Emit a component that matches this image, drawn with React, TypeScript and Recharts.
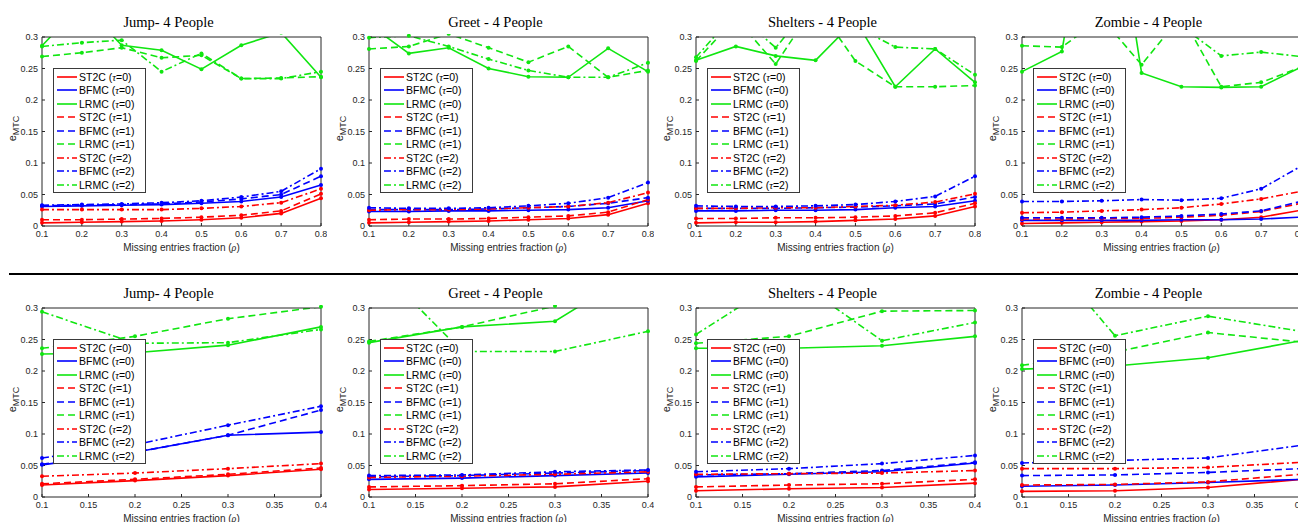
import React from "react";
import { LineChart, Line, XAxis, YAxis, Legend } from "recharts";

// x positions (missing entries fraction)
const xTop = [0.1, 0.2, 0.3, 0.4, 0.5, 0.6, 0.7, 0.8];
const xBottom = [0.1, 0.2, 0.3, 0.4];
const xTicksTop = [0.1, 0.2, 0.3, 0.4, 0.5, 0.6, 0.7, 0.8];
const xTicksBottom = [0.1, 0.15, 0.2, 0.25, 0.3, 0.35, 0.4];
const yTicks = [0, 0.05, 0.1, 0.15, 0.2, 0.25, 0.3];

const methods = ["ST2C", "BFMC", "LRMC"];
const taus = [0, 1, 2];

// each panel: ST2C/BFMC/LRMC for tau=0, then tau=1, then tau=2
const jumpTop = [
  [0.005, 0.006, 0.007, 0.008, 0.01, 0.013, 0.02, 0.044],
  [0.031, 0.032, 0.033, 0.034, 0.036, 0.039, 0.046, 0.065],
  [0.286, 0.353, 0.287, 0.279, 0.249, 0.287, 0.307, 0.236],
  [0.01, 0.01, 0.011, 0.012, 0.014, 0.017, 0.024, 0.051],
  [0.032, 0.033, 0.034, 0.035, 0.038, 0.043, 0.05, 0.079],
  [0.269, 0.275, 0.283, 0.267, 0.271, 0.234, 0.235, 0.237],
  [0.026, 0.026, 0.026, 0.026, 0.028, 0.031, 0.037, 0.059],
  [0.033, 0.034, 0.035, 0.037, 0.04, 0.046, 0.055, 0.091],
  [0.285, 0.291, 0.295, 0.245, 0.274, 0.234, 0.234, 0.245],
];

const greetTop = [
  [0.005, 0.006, 0.007, 0.008, 0.01, 0.012, 0.018, 0.036],
  [0.023, 0.023, 0.024, 0.024, 0.025, 0.026, 0.029, 0.04],
  [0.32, 0.274, 0.283, 0.25, 0.237, 0.236, 0.282, 0.245],
  [0.01, 0.011, 0.011, 0.012, 0.014, 0.016, 0.022, 0.042],
  [0.026, 0.026, 0.026, 0.027, 0.029, 0.031, 0.036, 0.045],
  [0.281, 0.285, 0.305, 0.283, 0.26, 0.285, 0.236, 0.247],
  [0.025, 0.026, 0.026, 0.027, 0.029, 0.031, 0.037, 0.053],
  [0.029, 0.028, 0.028, 0.029, 0.032, 0.036, 0.045, 0.069],
  [0.299, 0.302, 0.285, 0.265, 0.247, 0.236, 0.236, 0.259],
];

const sheltersTop = [
  [0.005, 0.006, 0.006, 0.007, 0.009, 0.011, 0.016, 0.031],
  [0.024, 0.024, 0.025, 0.025, 0.026, 0.029, 0.031, 0.04],
  [0.263, 0.285, 0.27, 0.263, 0.327, 0.221, 0.281, 0.228],
  [0.012, 0.012, 0.013, 0.013, 0.014, 0.016, 0.021, 0.036],
  [0.028, 0.028, 0.028, 0.029, 0.03, 0.032, 0.035, 0.046],
  [0.262, 0.33, 0.257, 0.352, 0.262, 0.221, 0.221, 0.223],
  [0.028, 0.028, 0.029, 0.029, 0.031, 0.033, 0.038, 0.051],
  [0.032, 0.031, 0.031, 0.032, 0.034, 0.039, 0.047, 0.079],
  [0.268, 0.339, 0.283, 0.36, 0.317, 0.284, 0.281, 0.24],
];

const zombieTop = [
  [0.004, 0.005, 0.006, 0.007, 0.008, 0.01, 0.014, 0.025],
  [0.009, 0.009, 0.009, 0.009, 0.01, 0.01, 0.011, 0.014],
  [0.245, 0.277, 0.65, 0.243, 0.221, 0.22, 0.221, 0.252],
  [0.011, 0.011, 0.012, 0.012, 0.014, 0.017, 0.023, 0.036],
  [0.013, 0.013, 0.013, 0.014, 0.016, 0.019, 0.024, 0.039],
  [0.286, 0.284, 0.33, 0.256, 0.334, 0.221, 0.228, 0.252],
  [0.021, 0.022, 0.024, 0.026, 0.029, 0.035, 0.043, 0.055],
  [0.039, 0.039, 0.04, 0.042, 0.041, 0.044, 0.059, 0.095],
  [0.32, 0.33, 0.35, 0.34, 0.317, 0.27, 0.276, 0.269],
];

const jumpBottom = [
  [0.019, 0.026, 0.034, 0.044],
  [0.051, 0.071, 0.098, 0.103],
  [0.227, 0.229, 0.241, 0.27],
  [0.021, 0.028, 0.036, 0.046],
  [0.052, 0.071, 0.098, 0.138],
  [0.236, 0.255, 0.283, 0.302],
  [0.033, 0.038, 0.045, 0.053],
  [0.062, 0.083, 0.114, 0.144],
  [0.294, 0.244, 0.245, 0.266],
];

const greetBottom = [
  [0.012, 0.014, 0.016, 0.025],
  [0.028, 0.03, 0.034, 0.038],
  [0.245, 0.27, 0.279, 0.37],
  [0.016, 0.018, 0.021, 0.029],
  [0.032, 0.034, 0.038, 0.042],
  [0.247, 0.27, 0.303, 0.34],
  [0.031, 0.033, 0.036, 0.04],
  [0.034, 0.035, 0.04, 0.043],
  [0.38, 0.231, 0.231, 0.263],
];

const sheltersBottom = [
  [0.01, 0.013, 0.015, 0.022],
  [0.032, 0.036, 0.04, 0.054],
  [0.236, 0.236, 0.24, 0.255],
  [0.016, 0.019, 0.021, 0.028],
  [0.035, 0.037, 0.042, 0.055],
  [0.244, 0.255, 0.295, 0.296],
  [0.036, 0.037, 0.038, 0.042],
  [0.04, 0.045, 0.053, 0.066],
  [0.258, 0.352, 0.248, 0.277],
];

const zombieBottom = [
  [0.009, 0.01, 0.015, 0.028],
  [0.017, 0.019, 0.023, 0.028],
  [0.203, 0.208, 0.221, 0.248],
  [0.019, 0.02, 0.024, 0.036],
  [0.034, 0.035, 0.039, 0.045],
  [0.209, 0.23, 0.261, 0.246],
  [0.045, 0.045, 0.047, 0.055],
  [0.054, 0.058, 0.062, 0.082],
  [0.43, 0.256, 0.287, 0.263],
];

const COLORS = ["#ff0000", "#0000ff", "#10e610"];
const DASHES = ["", "7 4", "7 3 2 3"];
const AXIS = "#262626";
const SANS = "'Liberation Sans', Arial, sans-serif";
const SERIF = "'Liberation Serif', 'Times New Roman', serif";

const PLOT_W = 279;
const PLOT_H = 189;
const CHART_W = 327;

const styleOf = (k: number) => ({
  color: COLORS[k % 3],
  dash: DASHES[Math.floor(k / 3)],
  method: methods[k % 3],
  tau: taus[Math.floor(k / 3)],
});

function LegendBox() {
  return (
    <div
      style={{
        width: 91,
        height: 122,
        paddingTop: 1,
        border: "1px solid #3a3a3a",
        background: "#fff",
        fontFamily: SANS,
        fontSize: 10.5,
        color: "#000",
      }}
    >
      {Array.from({ length: 9 }, (_, k) => {
        const s = styleOf(k);
        return (
          <div key={k} style={{ height: 13.5, display: "flex", alignItems: "center", whiteSpace: "nowrap" }}>
            <svg width={25} height={12} style={{ flex: "none" }}>
              <line x1={3} x2={23} y1={6} y2={6} stroke={s.color} strokeWidth={1.6} strokeDasharray={s.dash || undefined} />
            </svg>
            <span>
              {s.method} (<i style={{ fontFamily: SERIF }}>τ</i>={s.tau})
            </span>
          </div>
        );
      })}
    </div>
  );
}

type PanelProps = {
  title: string;
  left: number;
  top: number;
  marginTop: number;
  xs: number[];
  xTicks: number[];
  series: number[][];
};

function Panel({ title, left, top, marginTop, xs, xTicks, series }: PanelProps) {
  const data = xs.map((x, i) => {
    const row: Record<string, number> = { x };
    series.forEach((s, k) => {
      row["s" + k] = s[i];
    });
    return row;
  });
  const xDomain = [xTicks[0], xTicks[xTicks.length - 1]];
  const tickStyle = { fontSize: 9, fill: AXIS, fontFamily: SANS };

  return (
    <div style={{ position: "absolute", left, top, width: CHART_W }}>
      <div
        style={{
          position: "absolute",
          left: 0,
          width: 337,
          top: marginTop - 24,
          lineHeight: "18px",
          textAlign: "center",
          fontFamily: SERIF,
          fontSize: 14.5,
          color: "#000",
        }}
      >
        {title}
      </div>
      <LineChart
        width={CHART_W}
        height={marginTop + PLOT_H + 34}
        data={data}
        margin={{ top: marginTop - 1, right: 5, bottom: 0, left: 12 }}
      >
        <XAxis
          xAxisId="b"
          dataKey="x"
          type="number"
          domain={xDomain}
          ticks={xTicks}
          interval={0}
          height={34}
          tickSize={-3}
          tickMargin={8}
          tick={tickStyle}
          axisLine={{ stroke: AXIS }}
          tickLine={{ stroke: AXIS }}
          label={{
            content: (p: any) => {
              const vb = p.viewBox || { x: 42, y: 226, width: PLOT_W };
              return (
                <text
                  x={vb.x + vb.width / 2}
                  y={vb.y + 21}
                  textAnchor="middle"
                  dominantBaseline="central"
                  fontFamily={SANS}
                  fontSize={10}
                  fill={AXIS}
                >
                  Missing entries fraction (<tspan fontFamily={SERIF} fontStyle="italic">ρ</tspan>)
                </text>
              );
            },
          }}
        />
        <XAxis
          xAxisId="t"
          orientation="top"
          type="number"
          domain={xDomain}
          ticks={xTicks}
          interval={0}
          height={1}
          tickSize={-3}
          tick={false}
          axisLine={{ stroke: AXIS }}
          tickLine={{ stroke: AXIS }}
        />
        <YAxis
          yAxisId="l"
          type="number"
          domain={[0, 0.3]}
          ticks={yTicks}
          interval={0}
          allowDataOverflow
          width={30}
          tickSize={-3}
          tickMargin={7}
          tick={tickStyle}
          axisLine={{ stroke: AXIS }}
          tickLine={{ stroke: AXIS }}
          label={{
            content: (p: any) => {
              const vb = p.viewBox || { x: 12, y: marginTop, height: PLOT_H };
              const cx = vb.x + 4;
              const cy = vb.y + vb.height / 2 - 3;
              return (
                <text
                  transform={`translate(${cx}, ${cy}) rotate(-90)`}
                  textAnchor="middle"
                  fontFamily={SANS}
                  fontSize={11}
                  fill={AXIS}
                >
                  e
                  <tspan fontSize={9} dy={3}>
                    MTC
                  </tspan>
                </text>
              );
            },
          }}
        />
        <YAxis
          yAxisId="r"
          orientation="right"
          type="number"
          domain={[0, 0.3]}
          ticks={yTicks}
          interval={0}
          width={1}
          tickSize={-3}
          tick={false}
          axisLine={{ stroke: AXIS }}
          tickLine={{ stroke: AXIS }}
        />
        {series.map((_, k) => {
          const s = styleOf(k);
          return (
            <Line
              key={k}
              xAxisId="b"
              yAxisId="l"
              dataKey={"s" + k}
              type="linear"
              stroke={s.color}
              strokeWidth={1.6}
              strokeDasharray={s.dash || undefined}
              dot={{ r: 2, fill: s.color, stroke: "none", clipDot: false }}
              activeDot={false}
              isAnimationActive={false}
            />
          );
        })}
        <Legend
          layout="vertical"
          align="center"
          verticalAlign="middle"
          wrapperStyle={{ left: 53, top: marginTop + 31, width: 93 }}
          content={() => <LegendBox />}
        />
      </LineChart>
    </div>
  );
}

const lefts = [0, 327, 654, 980];
const topPanels = [
  { title: "Jump- 4 People", series: jumpTop },
  { title: "Greet - 4 People", series: greetTop },
  { title: "Shelters - 4 People", series: sheltersTop },
  { title: "Zombie - 4 People", series: zombieTop },
];
const bottomPanels = [
  { title: "Jump- 4 People", series: jumpBottom },
  { title: "Greet - 4 People", series: greetBottom },
  { title: "Shelters - 4 People", series: sheltersBottom },
  { title: "Zombie - 4 People", series: zombieBottom },
];

export default function App() {
  return (
    <div
      style={{
        position: "absolute",
        left: 0,
        top: 0,
        width: 1298,
        height: 522,
        overflow: "hidden",
        background: "#fff",
      }}
    >
      {topPanels.map((p, i) => (
        <Panel key={"t" + i} title={p.title} left={lefts[i]} top={0} marginTop={37} xs={xTop} xTicks={xTicksTop} series={p.series} />
      ))}
      <div style={{ position: "absolute", left: 9, top: 273, width: 1289, height: 2, background: "#000" }} />
      {bottomPanels.map((p, i) => (
        <Panel key={"b" + i} title={p.title} left={lefts[i]} top={270} marginTop={38} xs={xBottom} xTicks={xTicksBottom} series={p.series} />
      ))}
    </div>
  );
}
